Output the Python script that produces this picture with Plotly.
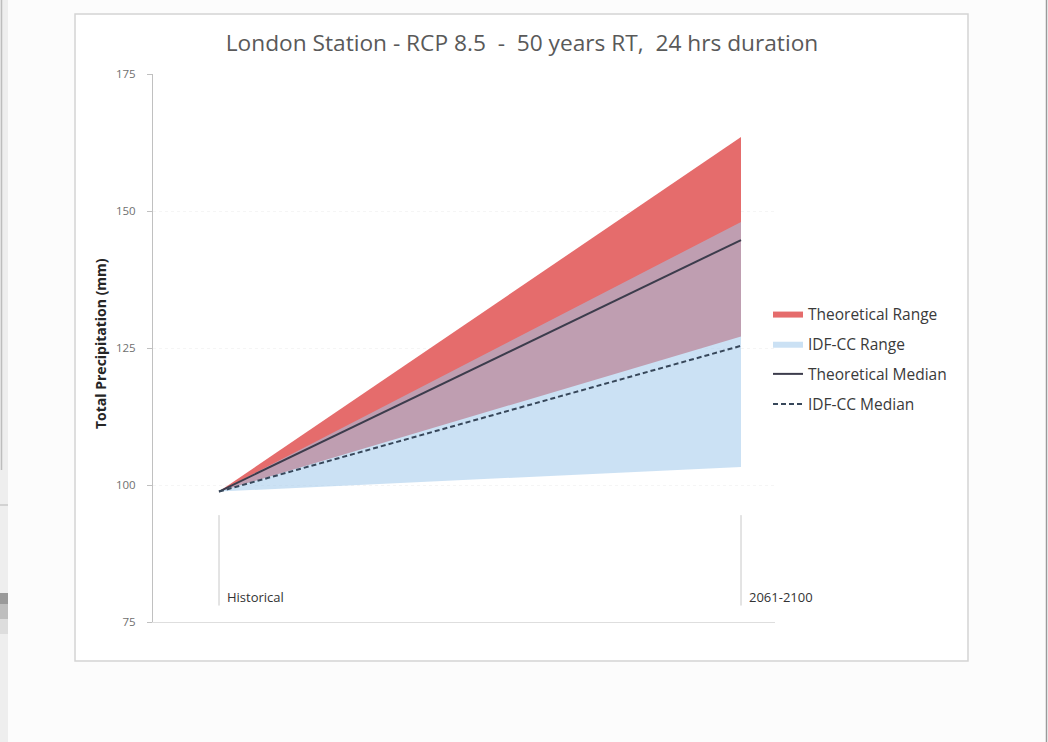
import plotly.graph_objects as go

# Two time slices: historical baseline and the far-future window
periods = ["Historical", "2061-2100"]

# 50-year return period, 24-hour total precipitation (mm)
theoretical_low = [98.8, 127.1]
theoretical_high = [98.8, 163.5]
idfcc_low = [98.8, 103.3]
idfcc_high = [98.8, 148.0]
theoretical_median = [98.8, 144.7]
idfcc_median = [98.8, 125.4]

y_ticks = [75, 100, 125, 150, 175]

W, H = 1048, 742
L, R, T, B = 153, 273, 74, 120
PW, PH = W - L - R, H - T - B


def px_x(px):
    return (px - L) / PW


def px_y(py):
    return (H - B - py) / PH


FONT = "Open Sans"
RED = "rgb(229,108,108)"
BLUE = "rgba(160,200,235,0.55)"

fig = go.Figure()

# Theoretical range band
fig.add_trace(go.Scatter(x=periods, y=theoretical_low, mode="lines",
                         line=dict(width=0), showlegend=False, hoverinfo="skip"))
fig.add_trace(go.Scatter(x=periods, y=theoretical_high, mode="lines", fill="tonexty",
                         fillcolor=RED, line=dict(width=0, color=RED),
                         name="Theoretical Range", legendgroup="a"))

# IDF-CC range band, translucent over the theoretical band
fig.add_trace(go.Scatter(x=periods, y=idfcc_low, mode="lines",
                         line=dict(width=0), showlegend=False, hoverinfo="skip"))
fig.add_trace(go.Scatter(x=periods, y=idfcc_high, mode="lines", fill="tonexty",
                         fillcolor=BLUE, line=dict(width=0, color=BLUE),
                         name="IDF-CC Range", legendgroup="b"))

# Medians
fig.add_trace(go.Scatter(x=periods, y=theoretical_median, mode="lines",
                         line=dict(color="#3c3c4c", width=2),
                         name="Theoretical Median", legendgroup="c"))
fig.add_trace(go.Scatter(x=periods, y=idfcc_median, mode="lines",
                         line=dict(color="#37475a", width=2, dash="5px,3px"),
                         name="IDF-CC Median", legendgroup="d"))

shapes = [
    # chart frame
    dict(type="rect", xref="paper", yref="paper", layer="below",
         x0=px_x(75), x1=px_x(968), y0=px_y(661), y1=px_y(14),
         line=dict(color="#d4d4d4", width=1.5), fillcolor="white"),
    # window edges
    dict(type="rect", xref="paper", yref="paper", layer="below",
         x0=px_x(0), x1=px_x(8), y0=px_y(742), y1=px_y(0),
         line=dict(width=0), fillcolor="#eeeeee"),
    dict(type="line", xref="paper", yref="paper", layer="below",
         x0=px_x(1.5), x1=px_x(1.5), y0=px_y(470), y1=px_y(0),
         line=dict(color="#bdbdbd", width=1.5)),
    dict(type="line", xref="paper", yref="paper", layer="below",
         x0=px_x(0), x1=px_x(8), y0=px_y(505), y1=px_y(505),
         line=dict(color="#c8c8c8", width=1.5)),
    dict(type="rect", xref="paper", yref="paper", layer="below",
         x0=px_x(0), x1=px_x(8), y0=px_y(604), y1=px_y(593),
         line=dict(width=0), fillcolor="#9a9a9a"),
    dict(type="rect", xref="paper", yref="paper", layer="below",
         x0=px_x(0), x1=px_x(8), y0=px_y(619), y1=px_y(604),
         line=dict(width=0), fillcolor="#bebebe"),
    dict(type="rect", xref="paper", yref="paper", layer="below",
         x0=px_x(0), x1=px_x(8), y0=px_y(634), y1=px_y(619),
         line=dict(width=0), fillcolor="#dddddd"),
    dict(type="line", xref="paper", yref="paper", layer="below",
         x0=px_x(1046.5), x1=px_x(1046.5), y0=px_y(742), y1=px_y(0),
         line=dict(color="#9a9a9a", width=1.5)),
]

annotations = [
    dict(text="Total Precipitation (mm)", textangle=-90, xref="paper", yref="paper",
         x=px_x(100), y=px_y(344), xanchor="center", yanchor="middle", showarrow=False,
         font=dict(family=FONT, size=14, color="#262626", weight="bold")),
]

# Period markers: short vertical rule with a label to its right
for i, label in enumerate(periods):
    shapes.append(dict(type="line", xref="x", yref="y", x0=i, x1=i, y0=78.0, y1=94.5,
                       line=dict(color="#c8c8c8", width=1)))
    annotations.append(dict(text=label, xref="x", yref="y", x=label, y=79.6,
                            xanchor="left", yanchor="middle", xshift=6, showarrow=False,
                            font=dict(family=FONT, size=13, color="#333333")))

fig.update_layout(
    width=W, height=H, autosize=False,
    margin=dict(l=L, r=R, t=T, b=B, pad=0),
    paper_bgcolor="#fcfcfc", plot_bgcolor="white",
    title=dict(text="London Station - RCP 8.5\u00a0 -\u00a0 50 years RT,\u00a0 24 hrs duration",
               x=522 / W, xanchor="center", y=1 - 43 / H, yanchor="middle",
               font=dict(family=FONT, size=22.7, color="#595959")),
    xaxis=dict(type="category", categoryorder="array", categoryarray=periods,
               range=[-66 / 522, 622 / 522 - 66 / 522], showticklabels=False, ticks="",
               showgrid=False, zeroline=False, showline=True, linecolor="#dedede",
               linewidth=1),
    yaxis=dict(range=[75, 175], tickvals=y_ticks, ticks="outside", ticklen=5,
               tickcolor="#c0c0c0", ticklabelstandoff=9, showline=True,
               linecolor="#c0c0c0", linewidth=1, showgrid=True, gridcolor="#f5f5f5",
               griddash="dot", zeroline=False,
               tickfont=dict(family=FONT, size=11.5, color="#707070")),
    legend=dict(x=px_x(768), y=px_y(297), xanchor="left", yanchor="top",
                bgcolor="rgba(0,0,0,0)", tracegroupgap=7,
                font=dict(family=FONT, size=15.5, color="#3a3a3a")),
    shapes=shapes,
    annotations=annotations,
    showlegend=True,
)

fig.write_html("out.html")
